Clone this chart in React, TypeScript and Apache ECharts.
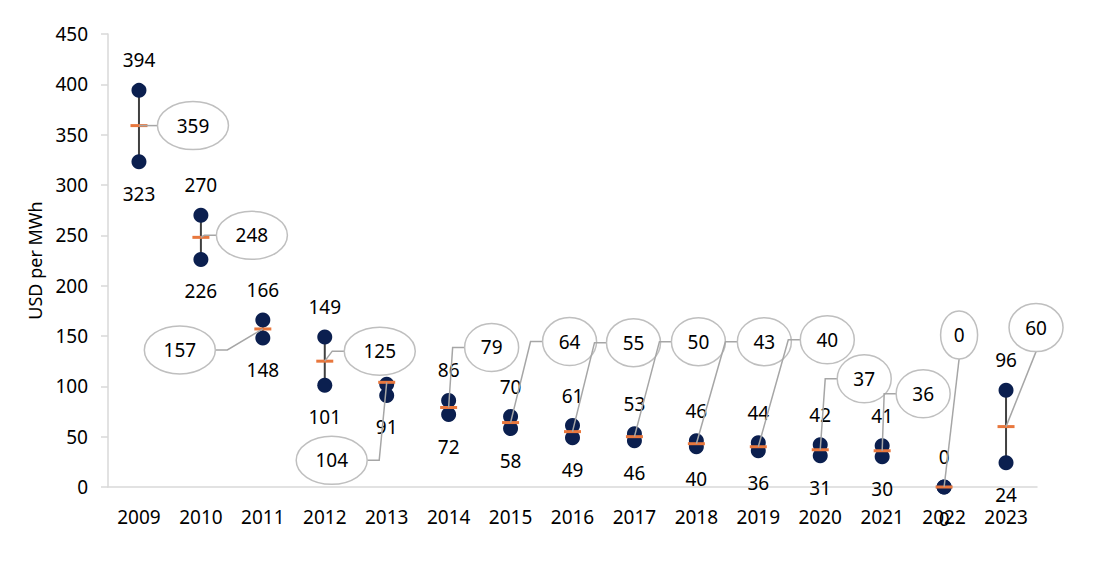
import React, { useEffect, useRef } from 'react';
import * as echarts from 'echarts';

const years = ['2009', '2010', '2011', '2012', '2013', '2014', '2015', '2016', '2017', '2018', '2019', '2020', '2021', '2022', '2023'];
const highValues = [394, 270, 166, 149, 102, 86, 70, 61, 53, 46, 44, 42, 41, 0, 96];
const lowValues = [323, 226, 148, 101, 91, 72, 58, 49, 46, 40, 36, 31, 30, 0, 24];
const midValues = [359, 248, 157, 125, 104, 79, 64, 55, 50, 43, 40, 37, 36, 0, 60];
// years whose high-point label is not shown
const hiddenHighLabels = ['2013'];

// callout placement, pixel offset of the bubble from its average mark
const calloutOffsets: [number, number][] = [
  [54, 0], [51, -2], [-83, 21], [55, -10], [-55, 78], [43, -60], [59, -81], [61, -89],
  [64, -95], [68, -102], [69, -107], [44, -71], [41, -57], [15, -152], [30, -99],
];

const FONT = '"Noto Sans", "Open Sans", sans-serif';
const NAVY = '#0b1f4f';
const ORANGE = '#e8773d';

export default function App() {
  const chartRef = useRef<HTMLDivElement | null>(null);

  useEffect(() => {
    if (!chartRef.current) return;
    const inst = echarts.init(chartRef.current, undefined, { renderer: 'svg' });

    inst.setOption({
      animation: false,
      textStyle: { fontFamily: FONT },
      grid: { left: 108, right: 61, top: 34, bottom: 80 },
      xAxis: {
        type: 'category',
        data: years,
        axisLine: { lineStyle: { color: '#d9d9d9', width: 1.5 } },
        axisTick: { show: false },
        axisLabel: { color: '#000', fontSize: 19, margin: 20, fontFamily: FONT },
        splitLine: { show: false },
      },
      yAxis: {
        type: 'value',
        min: 0,
        max: 450,
        interval: 50,
        name: 'USD per MWh',
        nameLocation: 'middle',
        nameGap: 63,
        nameRotate: 90,
        nameTextStyle: { color: '#000', fontSize: 18, fontFamily: FONT },
        axisLine: { show: true, lineStyle: { color: '#d9d9d9', width: 1.5 } },
        axisTick: { show: true, length: 7, lineStyle: { color: '#d9d9d9', width: 1.5 } },
        axisLabel: { color: '#000', fontSize: 19, margin: 20, fontFamily: FONT },
        splitLine: { show: false },
      },
      series: [
        {
          type: 'custom',
          z: 1,
          data: years.map((_, i) => [i, highValues[i], lowValues[i]]),
          encode: { x: 0, y: [1, 2] },
          renderItem: (_params: any, api: any) => {
            const a = api.coord([api.value(0), api.value(1)]);
            const b = api.coord([api.value(0), api.value(2)]);
            return {
              type: 'line',
              shape: { x1: a[0], y1: a[1], x2: b[0], y2: b[1] },
              style: { stroke: '#404040', lineWidth: 2 },
            };
          },
        },
        {
          type: 'scatter',
          z: 2,
          symbolSize: 15,
          itemStyle: { color: NAVY, opacity: 1 },
          data: highValues.map((v, i) =>
            hiddenHighLabels.includes(years[i]) ? { value: v, label: { show: false } } : v
          ),
          label: {
            show: true,
            position: 'top',
            distance: 13,
            color: '#000',
            fontSize: 19,
            fontFamily: FONT,
          },
        },
        {
          type: 'scatter',
          z: 2,
          symbolSize: 15,
          itemStyle: { color: NAVY, opacity: 1 },
          data: lowValues,
          label: {
            show: true,
            position: 'bottom',
            distance: 15,
            color: '#000',
            fontSize: 19,
            fontFamily: FONT,
          },
        },
        {
          type: 'scatter',
          z: 3,
          symbol: 'rect',
          symbolSize: [17, 3],
          itemStyle: { color: ORANGE, opacity: 1 },
          data: midValues,
        },
        {
          type: 'custom',
          z: 4,
          data: years.map((_, i) => [i, midValues[i]]),
          encode: { x: 0, y: 1 },
          renderItem: (params: any, api: any) => {
            const idx = params.dataIndex;
            const p = api.coord([api.value(0), api.value(1)]);
            const [dx, dy] = calloutOffsets[idx];
            const cx = p[0] + dx;
            const cy = p[1] + dy;
            const text = String(midValues[idx]);
            const rx = 10 + 8.5 * text.length;
            const ry = 24;
            let pts: number[][];
            if (Math.abs(dx) > rx + 10) {
              const s = dx > 0 ? 1 : -1;
              const edgeX = cx - s * rx;
              pts = [p, [edgeX - s * 12, cy], [edgeX, cy]];
            } else {
              pts = [p, [cx, cy + (dy < 0 ? ry : -ry)]];
            }
            return {
              type: 'group',
              children: [
                {
                  type: 'polyline',
                  shape: { points: pts },
                  style: { stroke: '#a6a6a6', lineWidth: 1.5, fill: null },
                },
                {
                  type: 'ellipse',
                  shape: { cx, cy, rx, ry },
                  style: { fill: '#fff', stroke: '#bfbfbf', lineWidth: 1.5 },
                },
                {
                  type: 'text',
                  x: cx,
                  y: cy,
                  style: {
                    text,
                    textAlign: 'center',
                    textVerticalAlign: 'middle',
                    fill: '#000',
                    font: `19px ${FONT}`,
                  },
                },
              ],
            };
          },
        },
      ],
    });

    return () => {
      inst.dispose();
    };
  }, []);

  return (
    <div
      ref={chartRef}
      style={{ position: 'fixed', left: 0, top: 0, width: 1098, height: 567, background: '#fff' }}
    />
  );
}
